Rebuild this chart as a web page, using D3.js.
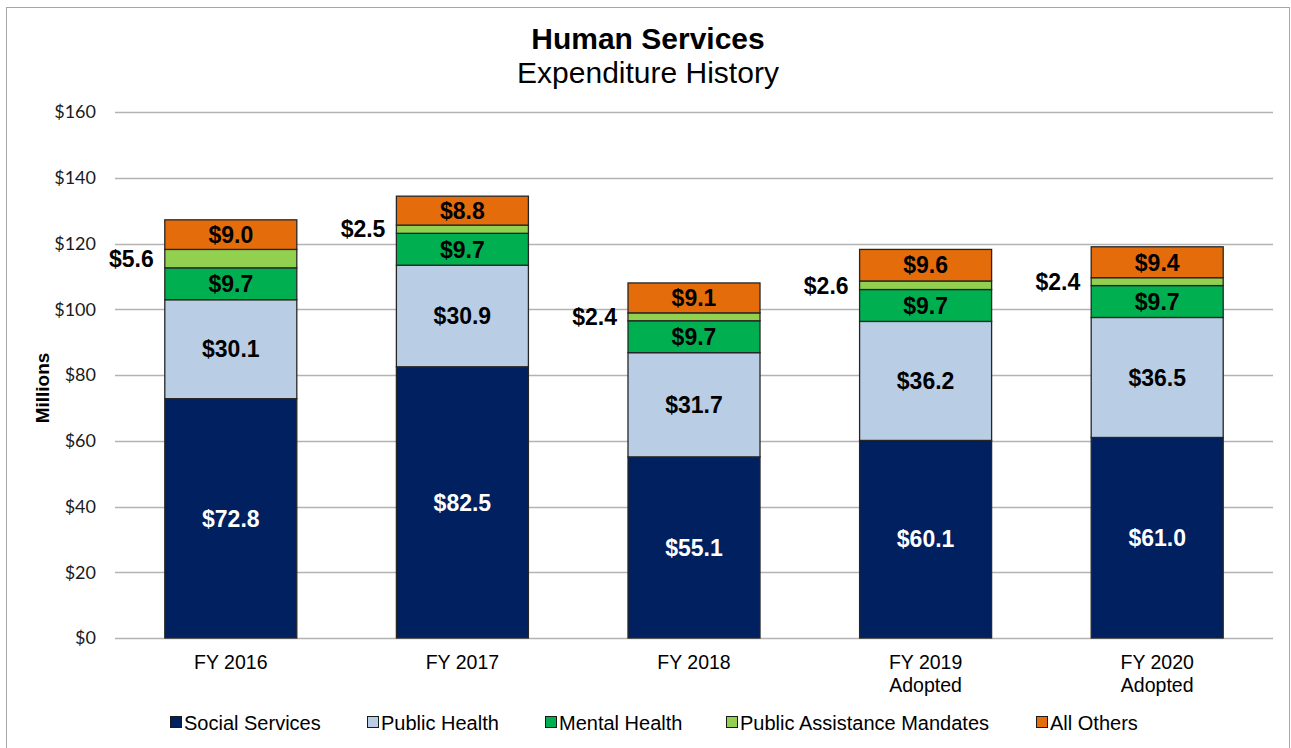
<!DOCTYPE html>
<html><head><meta charset="utf-8">
<script src="https://cdn.jsdelivr.net/npm/d3@7"></script>
<style>body{margin:0;background:#fff}svg{display:block}</style>
</head><body><svg id="c" width="1291" height="748"></svg>
<script>
const categories = [["FY 2016"],["FY 2017"],["FY 2018"],["FY 2019","Adopted"],["FY 2020","Adopted"]];
const seriesNames = ["Social Services","Public Health","Mental Health","Public Assistance Mandates","All Others"];
const socialServices = [72.8, 82.5, 55.1, 60.1, 61.0];
const publicHealth = [30.1, 30.9, 31.7, 36.2, 36.5];
const mentalHealth = [9.7, 9.7, 9.7, 9.7, 9.7];
const publicAssistance = [5.6, 2.5, 2.4, 2.6, 2.4];
const allOthers = [9.0, 8.8, 9.1, 9.6, 9.4];
const yTicks = [0,20,40,60,80,100,120,140,160];
const colors = ["#002060","#b9cde5","#00b050","#92d050","#e46c0a"];

(function(){
const seriesVals = [socialServices, publicHealth, mentalHealth, publicAssistance, allOthers];
const keys = categories.map(c => c.join(" "));
const rows = keys.map((k,i) => { const r = {cat:k, idx:i}; seriesNames.forEach((s,j)=> r[s]=seriesVals[j][i]); return r; });
const stack = d3.stack().keys(seriesNames)(rows);
const ARIAL = "'Liberation Sans', Arial, sans-serif";

const svg = d3.select("#c");
svg.append("rect").attr("x",6.5).attr("y",7.5).attr("width",1283).attr("height",745).attr("fill","none").attr("stroke","#a6a6a6").attr("stroke-width",1);

const pL=115, pR=1273, pT=112, pB=638;
const x = d3.scaleBand().domain(keys).range([pL,pR]).paddingInner(0.43).paddingOuter(0.215);
const y = d3.scaleLinear().domain([0,160]).range([pB,pT]);

svg.append("g").selectAll("line").data(yTicks).join("line")
  .attr("x1",pL).attr("x2",pR).attr("y1",d=>Math.round(y(d))+0.5).attr("y2",d=>Math.round(y(d))+0.5)
  .attr("stroke","#b3b3b3").attr("stroke-width",1.3);

const yAxis = d3.axisLeft(y).tickValues(yTicks).tickSize(0).tickPadding(19).tickFormat(d=>"$"+d);
const gy = svg.append("g").attr("transform",`translate(${pL},0)`).call(yAxis);
gy.select(".domain").remove();
gy.selectAll("text").attr("font-family","Lato, 'Open Sans', sans-serif").attr("font-size",18).attr("fill","#1a1a1a");

const g = svg.append("g");
stack.forEach((s,si)=>{
  g.append("g").selectAll("rect").data(s).join("rect")
    .attr("x",d=>x(d.data.cat)).attr("width",x.bandwidth())
    .attr("y",d=>y(d[1])).attr("height",d=>y(d[0])-y(d[1]))
    .attr("fill",colors[si]).attr("stroke","#262626").attr("stroke-width",1.3);
});

const lab = svg.append("g").attr("font-family",ARIAL).attr("font-weight","bold").attr("font-size",23);
stack.forEach((s,si)=>{
  s.forEach(d=>{
    const v = d[1]-d[0];
    const cy = y((d[0]+d[1])/2);
    if (si===3) {
      lab.append("text").attr("x",x(d.data.cat)-11).attr("y",cy).attr("dy","0.36em")
        .attr("text-anchor","end").attr("fill","#000").text("$"+v.toFixed(1));
    } else {
      lab.append("text").attr("x",x(d.data.cat)+x.bandwidth()/2).attr("y",cy).attr("dy","0.36em")
        .attr("text-anchor","middle").attr("fill",si===0?"#fff":"#000").text("$"+v.toFixed(1));
    }
  });
});

const xl = svg.append("g").attr("font-family",ARIAL).attr("font-size",19.5).attr("fill","#000");
categories.forEach((c,i)=>{
  const cx = x(keys[i])+x.bandwidth()/2;
  const t = xl.append("text").attr("x",cx).attr("y",669).attr("text-anchor","middle");
  c.forEach((line,j)=> t.append("tspan").attr("x",cx).attr("dy",j?23:0).text(line));
});

svg.append("text").attr("transform","translate(49,388) rotate(-90)").attr("text-anchor","middle")
  .attr("font-family",ARIAL).attr("font-weight","bold").attr("font-size",19).text("Millions");

svg.append("text").attr("x",648).attr("y",49).attr("text-anchor","middle")
  .attr("font-family",ARIAL).attr("font-weight","bold").attr("font-size",30).text("Human Services");
svg.append("text").attr("x",648).attr("y",83).attr("text-anchor","middle")
  .attr("font-family",ARIAL).attr("font-size",30).text("Expenditure History");

const legX = [170, 367, 545, 726, 1036];
const leg = svg.append("g").attr("font-family",ARIAL).attr("font-size",20);
seriesNames.forEach((n,i)=>{
  leg.append("rect").attr("x",legX[i]+0.5).attr("y",716.5).attr("width",11).attr("height",11)
    .attr("fill",colors[i]).attr("stroke","#1a1a1a").attr("stroke-width",1);
  leg.append("text").attr("x",legX[i]+14).attr("y",729.5).text(n);
});
})();
</script></body></html>
